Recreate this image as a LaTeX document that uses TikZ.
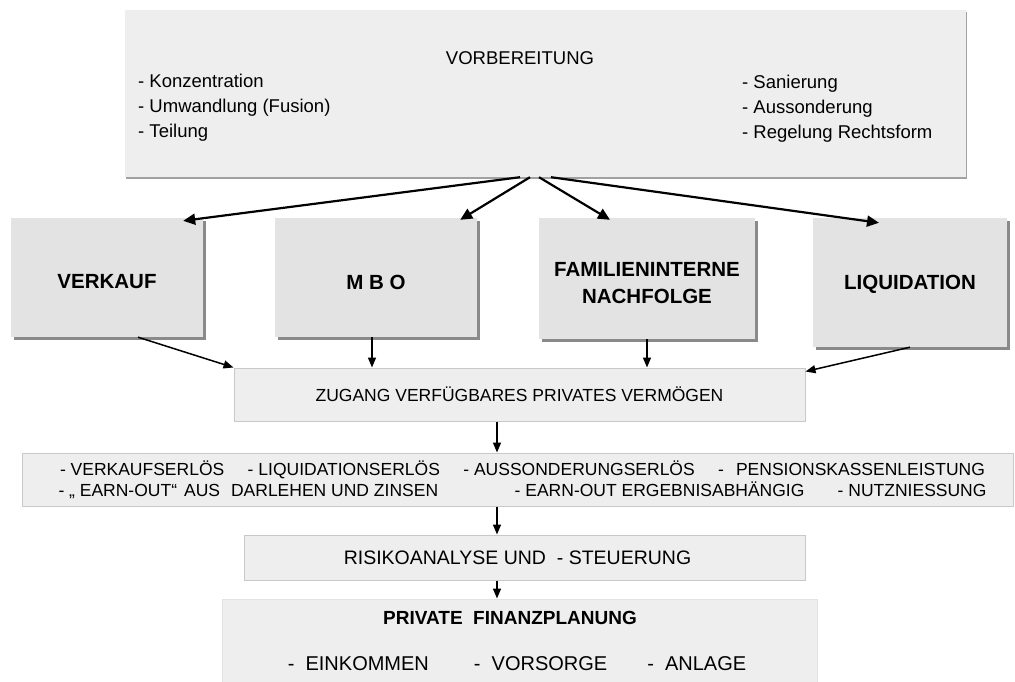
\documentclass[tikz,border=0pt]{standalone}
\usepackage{fontspec}
\setmainfont{Liberation Sans}
\usetikzlibrary{arrows.meta,positioning,shadows}

\definecolor{boxhell}{HTML}{EEEEEE}
\definecolor{boxmittel}{HTML}{E3E3E3}
\definecolor{boxrand}{HTML}{C8C8C8}
\definecolor{schatten}{HTML}{8A8A8A}

\newcommand{\fsize}[2]{\fontsize{#1}{#2}\selectfont}
\newcommand{\tiefer}[2]{\raisebox{-#1}[\height][\depth]{#2}}

\begin{document}
\begin{tikzpicture}[
  x=1pt, y=-1pt,
  vorbox/.style={rectangle, fill=boxhell, inner sep=0pt, general shadow={fill=schatten!80, shadow xshift=1pt, shadow yshift=-2.5pt}},
  pfad/.style={rectangle, fill=boxmittel, inner sep=0pt, align=center, font=\bfseries\fsize{20.5}{27}, general shadow={fill=schatten, shadow xshift=3pt, shadow yshift=-3pt}},
  flowbox/.style={rectangle, fill=boxhell, draw=boxrand, line width=1pt, inner sep=0pt, align=center},
  liste/.style={align=left, inner sep=0pt, font=\fsize{18.5}{25}},
  pfeil/.style={-{Triangle[length=12pt,width=11pt]}, line width=2.2pt},
  kurzpfeil/.style={-{Triangle[length=10pt,width=8pt]}, line width=1.5pt}
]
\useasboundingbox (0,0) rectangle (1015,682);

\node[vorbox, minimum width=841pt, minimum height=167pt] (vorbereitung) at (545.5,93.5) {};
\node[font=\fsize{18.5}{25}] (titel) at (520,58) {VORBEREITUNG};
\node[liste, anchor=west] (links) at (138,107.5) {- Konzentration\\- Umwandlung (Fusion)\\- Teilung};
\node[liste, anchor=west] (rechts) at (742,108.5) {- Sanierung\\- Aussonderung\\- Regelung Rechtsform};

\node[pfad, minimum width=192pt, minimum height=119pt] (verkauf) at (107,277.5) {\tiefer{4.5pt}{VERKAUF}};
\node[pfad, minimum width=202pt, minimum height=119pt, right of=verkauf, node distance=269pt] (mbo) {\tiefer{4.5pt}{M B O}};
\node[pfad, minimum width=216pt, minimum height=121pt, right of=mbo, node distance=271pt, yshift=-1pt] (familie) {\tiefer{5pt}{FAMILIENINTERNE}\\\tiefer{5pt}{NACHFOLGE}};
\node[pfad, minimum width=194pt, minimum height=129pt, right of=familie, node distance=263pt, yshift=-4pt] (liquidation) {\tiefer{2pt}{LIQUIDATION}};

\node[flowbox, minimum width=571pt, minimum height=53pt, font=\fsize{17.5}{21}] (zugang) at (519.5,394.5) {ZUGANG VERFÜGBARES PRIVATES VERMÖGEN};

\node[flowbox, minimum width=991pt, minimum height=53pt, font=\fsize{17.5}{21}] (erloese) at (517.5,479.5) {%
  \hbox{\kern10pt\hbox to 925pt{- VERKAUFSERLÖS\hfil - LIQUIDATIONSERLÖS\hfil - AUSSONDERUNGSERLÖS\hfil -\hspace{12pt}PENSIONSKASSENLEISTUNG}}\\
  \hbox{\kern10pt\hbox to 928pt{- „ EARN-OUT“\hspace{7pt}AUS\hspace{11pt}DARLEHEN UND ZINSEN\hspace{\stretch{2.3}}- EARN-OUT ERGEBNISABHÄNGIG\hspace{\stretch{1}}- NUTZNIESSUNG}}};

\node[flowbox, minimum width=561pt, minimum height=45pt, font=\fsize{19.5}{24}] (risiko) at (524.5,557.5) {\hspace{-14pt}RISIKOANALYSE UND\ \ - STEUERUNG};

\node[flowbox, draw=boxhell!90!gray, minimum width=595pt, minimum height=101pt] (planung) at (519.5,649.5) {};
\node[font=\bfseries\fsize{19}{24}] (plantitel) at (510,618) {PRIVATE\ \ FINANZPLANUNG};
\node[font=\fsize{20}{24}] (planliste) at (517,664) {-\ \ EINKOMMEN\hspace{45pt}-\ \ VORSORGE\hspace{40pt}-\ \ ANLAGE};

\coordinate (achse) at (497,0);

\draw[pfeil] ([xshift=-25.5pt]vorbereitung.south) -- ([xshift=-20pt,yshift=-3pt]verkauf.north east);
\draw[pfeil] ([xshift=-15.5pt]vorbereitung.south) -- ([xshift=-17pt,yshift=-2pt]mbo.north east);
\draw[pfeil] ([xshift=-6.5pt]vorbereitung.south) -- ([xshift=-37pt,yshift=-2pt]familie.north);
\draw[pfeil] ([xshift=5.5pt]vorbereitung.south) -- ([xshift=-31pt,yshift=-5pt]liquidation.north);

\draw[kurzpfeil] ([xshift=31pt]verkauf.south) -- (zugang.north west);
\draw[kurzpfeil] ([xshift=-4pt]mbo.south) -- ([xshift=-4pt]mbo.south |- zugang.north);
\draw[kurzpfeil] (familie.south) -- (familie.south |- zugang.north);
\draw[kurzpfeil] (liquidation.south) -- ([yshift=-4pt]zugang.north east);

\draw[kurzpfeil] (zugang.south -| achse) -- (erloese.north -| achse);
\draw[kurzpfeil] (erloese.south -| achse) -- (risiko.north -| achse);
\draw[kurzpfeil] (risiko.south -| achse) -- (planung.north -| achse);
\end{tikzpicture}
\end{document}
